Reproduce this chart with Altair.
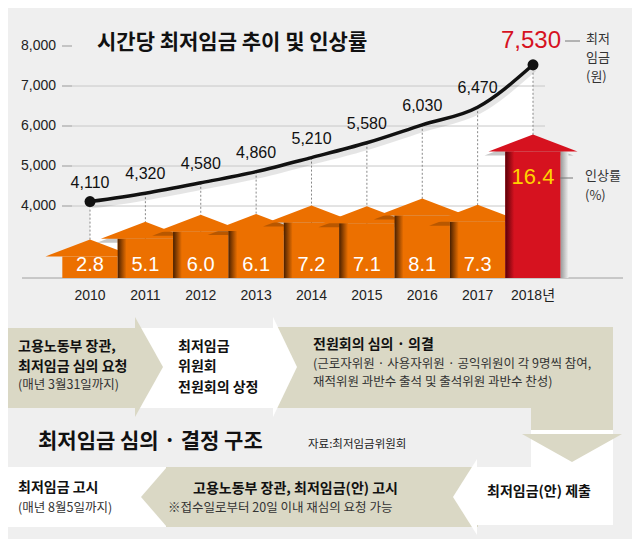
import altair as alt
import pandas as pd

# ---------------- data ----------------
years = [2010, 2011, 2012, 2013, 2014, 2015, 2016, 2017, 2018]
year_labels = ["2010", "2011", "2012", "2013", "2014", "2015", "2016", "2017", "2018년"]
wages = [4110, 4320, 4580, 4860, 5210, 5580, 6030, 6470, 7530]
wage_labels = ["4,110", "4,320", "4,580", "4,860", "5,210", "5,580", "6,030", "6,470", "7,530"]
rates = [2.8, 5.1, 6.0, 6.1, 7.2, 7.1, 8.1, 7.3, 16.4]
rate_labels = ["2.8", "5.1", "6.0", "6.1", "7.2", "7.1", "8.1", "7.3", "16.4"]
wage_ticks = [4000, 5000, 6000, 7000, 8000]
wage_tick_labels = ["4,000", "5,000", "6,000", "7,000", "8,000"]
grid_values = [4000, 5000, 6000, 7000]

title_text = "시간당 최저임금 추이 및 인상률"
section_title = "최저임금 심의 · 결정 구조"
source_text = "자료:최저임금위원회"

# ---------------- styles / layout ----------------
KFONT = "Noto Sans CJK KR"
NFONT = "Liberation Sans, Noto Sans CJK KR"
BG = "#efefef"
ORANGE = "#ec7000"
RED = "#d6121f"
YELLOW = "#ffd200"
KHAKI = "#dad8c5"

W, H = 624, 531
M = 8  # page margin: layout numbers below are in screen pixels

XL = alt.Scale(domain=[M, M + W], range=[0, W], nice=False, zero=False)
YL = alt.Scale(domain=[M, M + H], range=[0, H], nice=False, zero=False)
XY = alt.Scale(domain=[2010, 2018], range=[90 - M, 533 - M], nice=False, zero=False)
YW = alt.Scale(domain=[2200, 8000], range=[278 - M, 46 - M], nice=False, zero=False)
YR = alt.Scale(domain=[0, 20], range=[278 - M, 278 - M - 7.72 * 20], nice=False, zero=False)

df = pd.DataFrame({"year": years, "ylab": year_labels, "wage": wages,
                   "wlab": wage_labels, "rate": rates, "rlab": rate_labels})
ticks_df = pd.DataFrame({"v": wage_ticks, "t": wage_tick_labels})
grid_df = pd.DataFrame({"v": grid_values})

HEAD_HALF = 44.5
HEAD_LEN = 17
HEAD_PATH = f"M-1,0L0,{-HEAD_LEN / HEAD_HALF:.4f}L1,0Z"
HEAD_SIZE = (2 * HEAD_HALF) ** 2

layers = []

# white area under the wage curve
layers.append(alt.Chart(df).mark_area(color="white", interpolate="monotone").encode(
    x=alt.X("year:Q", scale=XY, axis=None),
    y=alt.Y("wage:Q", scale=YW, axis=None),
    y2=alt.datum(2200)))

# grid lines
layers.append(alt.Chart(grid_df).mark_rule(color="#c8c8c8", strokeWidth=1).encode(
    x=alt.XDatum(72, scale=XL, axis=None, type="quantitative"),
    x2=alt.X2Datum(545),
    y=alt.Y("v:Q", scale=YW, axis=None)))
# tick marks
layers.append(alt.Chart(ticks_df).mark_rule(color="#999999", strokeWidth=1).encode(
    x=alt.XDatum(62, scale=XL, axis=None, type="quantitative"),
    x2=alt.X2Datum(72),
    y=alt.Y("v:Q", scale=YW, axis=None)))
# tick labels
layers.append(alt.Chart(ticks_df).mark_text(align="right", baseline="middle", fontSize=14,
                                            font=NFONT, color="#222").encode(
    x=alt.XDatum(56, scale=XL, axis=None, type="quantitative"),
    y=alt.Y("v:Q", scale=YW, axis=None),
    text="t:N"))

# dashed guides from each wage point down
layers.append(alt.Chart(df).mark_rule(color="#888", strokeWidth=1, strokeDash=[2, 2]).encode(
    x=alt.X("year:Q", scale=XY, axis=None),
    y=alt.Y("wage:Q", scale=YW, axis=None),
    y2=alt.datum(2200)))

# baseline
layers.append(alt.Chart(df.head(1)).mark_rule(color="#a0a0a0", strokeWidth=1).encode(
    x=alt.XDatum(22, scale=XL, axis=None, type="quantitative"),
    x2=alt.X2Datum(623),
    y=alt.YDatum(0, scale=YR, axis=None, type="quantitative")))

# arrows for the raise rate
for i, yr in enumerate(years):
    d = df[df.year == yr]
    col = RED if yr == 2018 else ORANGE
    dark = "#5a0008" if yr == 2018 else "#4a2000"
    base = alt.Chart(d).transform_calculate(
        x0="datum.year - 0.5", x1="datum.year + 0.5", xs="datum.year - 0.5 + 0.16",
        xr="datum.year + 0.5 + 0.14")
    if i > 0:
        layers.append(base.mark_point(shape=HEAD_PATH, size=HEAD_SIZE, filled=True, color="#000",
                                      opacity=0.22, strokeWidth=0, xOffset=-4, yOffset=4).encode(
            x=alt.X("year:Q", scale=XY, axis=None),
            y=alt.Y("rate:Q", scale=YR, axis=None)))
    layers.append(base.mark_rect(color=col).encode(
        x=alt.X("x0:Q", scale=XY, axis=None), x2="x1:Q",
        y=alt.Y("rate:Q", scale=YR, axis=None), y2=alt.datum(0)))
    if i > 0:
        grad = alt.LinearGradient(gradient="linear", x1=0, x2=1, y1=0, y2=0,
                                  stops=[alt.GradientStop(color=dark, offset=0),
                                         alt.GradientStop(color=col, offset=1)])
        layers.append(base.mark_rect(color=grad).encode(
            x=alt.X("x0:Q", scale=XY, axis=None), x2="xs:Q",
            y=alt.Y("rate:Q", scale=YR, axis=None), y2=alt.datum(0)))
    if yr == 2018:
        sgrad = alt.LinearGradient(gradient="linear", x1=0, x2=1, y1=0, y2=0,
                                   stops=[alt.GradientStop(color="#9a9a9a", offset=0),
                                          alt.GradientStop(color=BG, offset=1)])
        layers.append(base.mark_rect(color=sgrad).encode(
            x=alt.X("x1:Q", scale=XY, axis=None), x2="xr:Q",
            y=alt.Y("rate:Q", scale=YR, axis=None), y2=alt.datum(0)))
    layers.append(base.mark_point(shape=HEAD_PATH, size=HEAD_SIZE, filled=True, color=col,
                                  opacity=1, strokeWidth=0).encode(
        x=alt.X("year:Q", scale=XY, axis=None),
        y=alt.Y("rate:Q", scale=YR, axis=None)))

# line shadow, line, end points
layers.append(alt.Chart(df).mark_line(color="#000", opacity=0.1, strokeWidth=6,
                                      interpolate="monotone", yOffset=4, xOffset=1).encode(
    x=alt.X("year:Q", scale=XY, axis=None), y=alt.Y("wage:Q", scale=YW, axis=None)))
layers.append(alt.Chart(df).mark_line(color="#111", strokeWidth=3.5, interpolate="monotone").encode(
    x=alt.X("year:Q", scale=XY, axis=None), y=alt.Y("wage:Q", scale=YW, axis=None)))
layers.append(alt.Chart(df).transform_filter("datum.year == 2010 || datum.year == 2018")
              .mark_circle(color="#111", size=120, opacity=1).encode(
    x=alt.X("year:Q", scale=XY, axis=None), y=alt.Y("wage:Q", scale=YW, axis=None)))

# wage labels
layers.append(alt.Chart(df).transform_filter("datum.year < 2018").mark_text(
    baseline="middle", fontSize=16, font=NFONT, color="#111", dy=-19).encode(
    x=alt.X("year:Q", scale=XY, axis=None), y=alt.Y("wage:Q", scale=YW, axis=None), text="wlab:N"))
layers.append(alt.Chart(df).transform_filter("datum.year == 2018").mark_text(
    baseline="middle", fontSize=24, font=NFONT, color=RED, dy=-24, dx=-2).encode(
    x=alt.X("year:Q", scale=XY, axis=None), y=alt.Y("wage:Q", scale=YW, axis=None), text="wlab:N"))

# rate labels
layers.append(alt.Chart(df).transform_filter("datum.year < 2018").mark_text(
    baseline="middle", fontSize=20, font=NFONT, color="white", dy=-13).encode(
    x=alt.X("year:Q", scale=XY, axis=None), y=alt.YDatum(0, scale=YR, axis=None, type="quantitative"),
    text="rlab:N"))
layers.append(alt.Chart(df).transform_filter("datum.year == 2018").mark_text(
    baseline="middle", fontSize=22, font=NFONT, color=YELLOW, dy=26).encode(
    x=alt.X("year:Q", scale=XY, axis=None), y=alt.Y("rate:Q", scale=YR, axis=None),
    text="rlab:N"))

# year labels
layers.append(alt.Chart(df).mark_text(baseline="middle", fontSize=14, font=NFONT, color="#222").encode(
    x=alt.X("year:Q", scale=XY, axis=None),
    y=alt.YDatum(296, scale=YL, axis=None, type="quantitative"),
    text="ylab:N"))


# ---------------- helpers for the diagram ----------------
def rect(x0, x1, y0, y1, color):
    d = pd.DataFrame({"x0": [x0], "x1": [x1], "y0": [y0], "y1": [y1]})
    return alt.Chart(d).mark_rect(color=color).encode(
        x=alt.X("x0:Q", scale=XL, axis=None), x2="x1:Q",
        y=alt.Y("y0:Q", scale=YL, axis=None), y2="y1:Q")


def tri(x, y, direction, half, length, color):
    r = length / half
    path = {"right": f"M0,-1L{r:.4f},0L0,1Z", "left": f"M0,-1L{-r:.4f},0L0,1Z",
            "down": f"M-1,0L0,{r:.4f}L1,0Z", "up": f"M-1,0L0,{-r:.4f}L1,0Z"}[direction]
    d = pd.DataFrame({"x": [x], "y": [y]})
    return alt.Chart(d).mark_point(shape=path, size=(2 * half) ** 2, filled=True, color=color,
                                   opacity=1, strokeWidth=0).encode(
        x=alt.X("x:Q", scale=XL, axis=None), y=alt.Y("y:Q", scale=YL, axis=None))


def texts(rows, size, weight="normal", color="#111", align="left", font=KFONT):
    d = pd.DataFrame(rows, columns=["t", "x", "y"])
    return alt.Chart(d).mark_text(align=align, baseline="middle", fontSize=size, fontWeight=weight,
                                  color=color, font=font).encode(
        x=alt.X("x:Q", scale=XL, axis=None), y=alt.Y("y:Q", scale=YL, axis=None), text="t:N")


# flow diagram shapes
layers += [
    rect(273, 613, 327, 408, KHAKI),       # step 3 box
    rect(531, 613, 327, 436, KHAKI),       # step 3 column
    rect(135, 275, 328, 408, "white"),     # step 2
    tri(273, 367, "right", 50, 24, "white"),
    rect(8, 137, 328, 408, KHAKI),         # step 1
    tri(135, 367, "right", 50, 28, KHAKI),
    rect(8, 168, 467, 527, "white"),       # final box
    rect(166, 478, 467, 527, KHAKI),       # notice band
    tri(167, 497, "left", 30, 26, KHAKI),
    rect(531, 613, 430, 525, "white"),     # submission box
    rect(477, 613, 467, 525, "white"),
    tri(477, 497, "left", 38, 24, "white"),
    tri(572, 434, "down", 50, 28, KHAKI),
]

# texts
layers += [
    texts([(title_text, 97, 43)], 21, "bold", "#111"),
    texts([(section_title, 38, 442)], 21, "bold", "#111"),
    texts([(source_text, 308, 445)], 11.5, "normal", "#222"),
    texts([("최저", 586, 39), ("임금", 586, 58), ("(원)", 586, 77),
           ("인상률", 585, 176), ("(%)", 585, 196)], 13, "normal", "#333"),
    texts([("고용노동부 장관,", 18, 347), ("최저임금 심의 요청", 18, 367),
           ("최저임금", 178, 347), ("위원회", 178, 367), ("전원회의 상정", 178, 388),
           ("전원회의 심의 · 의결", 313, 345),
           ("최저임금 고시", 18, 488), ("고용노동부 장관, 최저임금(안) 고시", 193, 489),
           ("최저임금(안) 제출", 487, 492)], 14, "bold", "#111"),
    texts([("(매년 3월31일까지)", 18, 385),
           ("(근로자위원 · 사용자위원 · 공익위원이 각 9명씩 참여,", 313, 364),
           ("재적위원 과반수 출석 및 출석위원 과반수 찬성)", 313, 382),
           ("(매년 8월5일까지)", 18, 508),
           ("※접수일로부터 20일 이내 재심의 요청 가능", 168, 508)], 12.5, "normal", "#333"),
]

# small leader dashes of the annotations
lead = pd.DataFrame({"x0": [565, 560], "x1": [580, 573], "y": [41, 178]})
layers.append(alt.Chart(lead).mark_rule(color="#777", strokeWidth=1).encode(
    x=alt.X("x0:Q", scale=XL, axis=None), x2="x1:Q", y=alt.Y("y:Q", scale=YL, axis=None)))

chart = alt.layer(*layers).resolve_scale(x="independent", y="independent").properties(
    width=W, height=H, background=BG, padding=0, autosize="none"
).configure_view(stroke=None)

chart.save("out.html", embed_options={"renderer": "svg", "actions": False})
